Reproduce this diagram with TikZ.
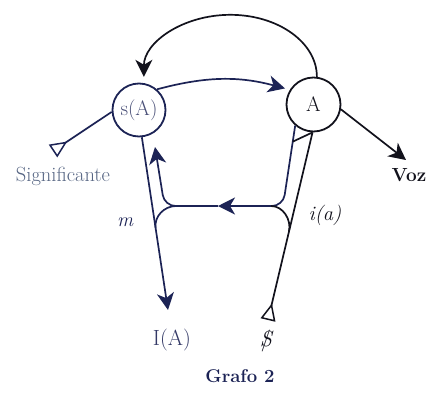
\documentclass[tikz,border=0pt]{standalone}
\usetikzlibrary{arrows.meta,calc}
\definecolor{navy}{RGB}{28,35,85}
\definecolor{ink}{RGB}{18,18,28}
\definecolor{sigc}{RGB}{85,100,130}
\begin{document}
\begin{tikzpicture}[x=1pt,y=1pt,
  circ/.style={circle,draw,line width=1.8pt,minimum size=53pt,inner sep=0pt,font=\fontsize{21}{22}\selectfont},
  lbl/.style={inner sep=0pt,font=\fontsize{20.5}{22}\selectfont},
  ln/.style={line width=1.7pt},
  arr/.style={ln,-{Stealth[length=17pt,width=17pt,inset=5pt]}},
  tri/.style={ln,-{Triangle[open,reversed,length=17pt,width=15pt,line width=1.5pt]}}]
\useasboundingbox (0,0) rectangle (426,-394);
% nodes
\node[circ,draw=navy,text=navy!80] (sA) at (139,-110) {s(A)};
\node[circ,draw=ink,text=ink,minimum size=54pt] (A) at (313.5,-104.5) {A};
\node[lbl,text=sigc] (sig) at (63,-176) {Significante};
\node[lbl,font=\fontsize{22}{24}\selectfont,text=navy!90] (IA) at (172,-340) {I(A)};
\node[lbl,font=\fontsize{22}{24}\selectfont,text=ink] (S) at (266,-341) {\ooalign{\itshape S\cr\hidewidth/\hidewidth\cr}};
\node[lbl,font=\fontsize{19}{22}\selectfont\bfseries,text=ink] (voz) at (409,-175) {Voz};
\node[lbl,font=\fontsize{20}{22}\selectfont\itshape,text=navy] (m) at (125,-222) {m};
\node[lbl,font=\fontsize{20.5}{22}\selectfont\itshape,text=ink] (ia) at (325,-215) {i(a)};
\node[lbl,font=\fontsize{18.5}{22}\selectfont\bfseries,text=navy] (grafo) at (240,-376) {Grafo 2};
% coordinates
\coordinate (sigend) at (53,-151);
\coordinate (IAtip) at (168,-310);
\coordinate (Send) at (268,-320);
\coordinate (voztip) at (406,-160);
\coordinate (upTip) at (155,-147);
\coordinate (hm) at (218,-206);
\coordinate (hl) at (176,-206);
\coordinate (hr) at (271,-206);
\coordinate (lc) at (164.5,-206);
\coordinate (rc) at (283,-206);
\coordinate (Aout) at (A.268);
\coordinate (lj) at ($(sA.-84)!0.526!(IAtip)$);
\coordinate (rj) at ($(Aout)!0.53!(Send)$);
% connectors
\draw[arr,ink] (A.83) arc[start angle=0,end angle=180,x radius=86.5pt,y radius=62pt];
\draw[arr,navy,shorten >=5pt] (sA.49) to[out=15,in=165] (A.148);
\draw[tri,navy] (sA.184) -- (sigend);
\draw[arr,navy] (sA.-84) -- (IAtip);
\draw[tri,ink] (Aout) -- (Send);
\draw[arr,ink] (A.-10) -- (voztip);
\draw[arr,navy,rounded corners=11pt] (hm) -- (lc) -- (upTip);
\draw[arr,navy,rounded corners=11pt] (A.229) -- (rc) -- (hm);
\draw[ln,navy] (hl) to[out=180,in=98] (lj);
\draw[ln,ink] (hr) to[out=0,in=77] (rj);
\draw[ln,ink] ($(A.229)!0.2!(rc)$) -- (Aout);
\end{tikzpicture}
\end{document}
